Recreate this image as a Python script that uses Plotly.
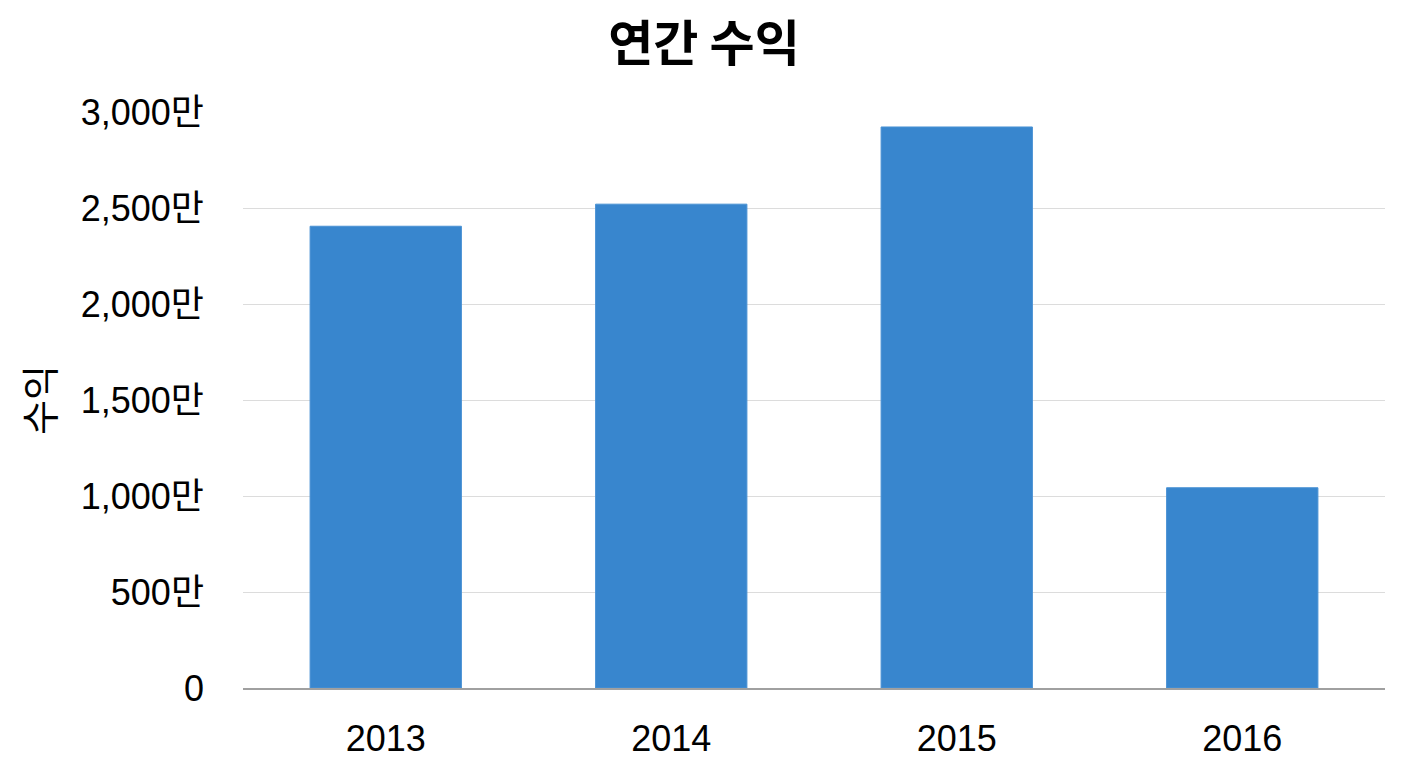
import plotly.graph_objects as go

years = ["2013", "2014", "2015", "2016"]
revenue_man = [2405, 2520, 2922, 1043]  # 단위: 만
tick_vals = [0, 500, 1000, 1500, 2000, 2500, 3000]
tick_text = ["0", "500만", "1,000만", "1,500만", "2,000만", "2,500만", "3,000만"]

FONT = "Liberation Sans, Arial, Noto Sans CJK KR, sans-serif"

fig = go.Figure(
    go.Bar(
        x=years,
        y=revenue_man,
        marker=dict(color="#3886CE", line=dict(color="#4A92D4", width=1)),
    )
)

fig.update_layout(
    width=1392,
    height=752,
    paper_bgcolor="white",
    plot_bgcolor="white",
    bargap=0.47,
    margin=dict(l=235, r=15, t=104, b=72),
    title=dict(
        text="<b>연간 수익</b>",
        x=0.5,
        xanchor="center",
        y=0.952,
        yanchor="middle",
        font=dict(family="Noto Sans CJK KR, sans-serif", size=49, color="black"),
    ),
    font=dict(family=FONT, size=36, color="black"),
    showlegend=False,
)

fig.update_xaxes(
    automargin=False,
    showgrid=False,
    showline=True,
    linecolor="#A0A0A0",
    linewidth=1.5,
    ticks="",
    ticklabelstandoff=18,
    tickfont=dict(family=FONT, size=36, color="black"),
)

fig.update_yaxes(
    automargin=False,
    range=[0, 3000],
    tickvals=tick_vals,
    ticktext=tick_text,
    showgrid=True,
    gridcolor="#DCDCDC",
    gridwidth=1,
    zeroline=False,
    showline=False,
    ticks="",
    ticklabelstandoff=38,
    tickfont=dict(family=FONT, size=36, color="black"),
    title=dict(text="수익", standoff=14, font=dict(family="Noto Sans CJK KR, sans-serif", size=38, color="black")),
)

fig.write_html("out.html")
